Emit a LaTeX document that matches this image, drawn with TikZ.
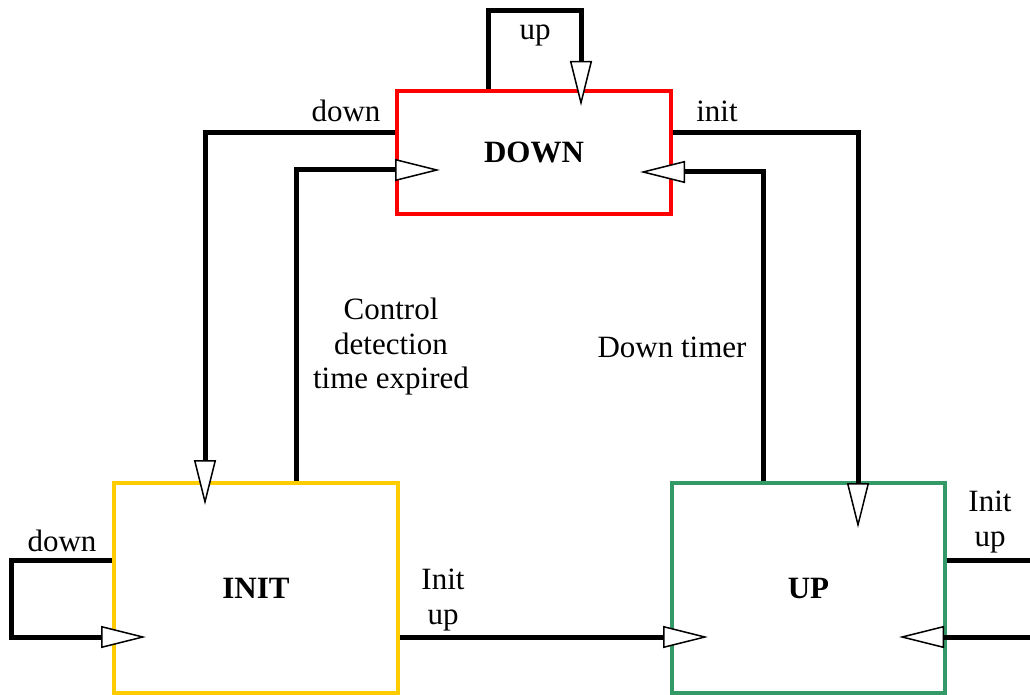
\documentclass[tikz,border=0pt]{standalone}
\usepackage{fontspec}
\setmainfont{Liberation Serif}
\usetikzlibrary{positioning,arrows.meta,calc}
\definecolor{downred}{RGB}{255,0,0}
\definecolor{inityellow}{RGB}{255,204,0}
\definecolor{upgreen}{RGB}{51,153,102}

\begin{document}
\begin{tikzpicture}[x=1pt,y=-1pt,
  font=\fontsize{31}{34.5}\selectfont,
  statebox/.style={draw,line width=4pt,font=\fontsize{31}{34.5}\selectfont\bfseries},
  wire/.style={line width=5pt,-{Triangle[open,fill=white,length=45pt,width=22pt,line width=1.5pt]}},
  plainwire/.style={line width=5pt}]
\useasboundingbox (0,0) rectangle (1030,695);
% states
\node[statebox,draw=downred,minimum width=274,minimum height=123] (down) at (534,152.5) {DOWN};
\node[statebox,draw=inityellow,minimum width=284,minimum height=210] (init) at (256,588) {INIT};
\node[statebox,draw=upgreen,minimum width=273,minimum height=210] (up) at (808.5,588) {UP};
\coordinate (rightout1) at (1030,560);
\coordinate (rightin1) at (1030,637);
% transitions
\draw[wire] ($(down.north)+(-46,0)$) -- ++(0,-78) -| ($(down.north)+(47,17)$);
\draw[wire] ($(down.west)+(0,-19.5)$) -| ($(init.north)+(-51,24)$);
\draw[wire] ($(init.north)+(40,0)$) |- ($(down.west)+(45,17.5)$);
\draw[wire] ($(down.east)+(0,-19.5)$) -| ($(up.north)+(49.5,47)$);
\draw[wire] ($(up.north)+(-45.5,0)$) |- ($(down.east)+(-33,19.5)$);
\draw[wire] ($(init.east)+(0,49)$) -- ($(up.west)+(38,49)$);
\draw[wire] ($(init.west)+(0,-28)$) -- ++(-101,0) |- ($(init.west)+(34,49)$);
\draw[plainwire] ($(up.east)+(0,-28)$) -- (rightout1);
\draw[wire] (rightin1) -- ($(up.east)+(-48,49)$);
% labels
\node (lblup) at (535,35) {up};
\node (lbldown) at (346,111) {down};
\node (lblinit) at (717,111) {init};
\node[align=center] (lblctrl) at (391,347) {Control\\detection\\time expired};
\node (lbltimer) at (672,347) {Down timer};
\node[align=center] (lblinitup) at (443,600) {Init\\up};
\node (lbldown2) at (62,541) {down};
\node[align=center] (lblinitup2) at (990,522) {Init\\up};
\end{tikzpicture}
\end{document}
